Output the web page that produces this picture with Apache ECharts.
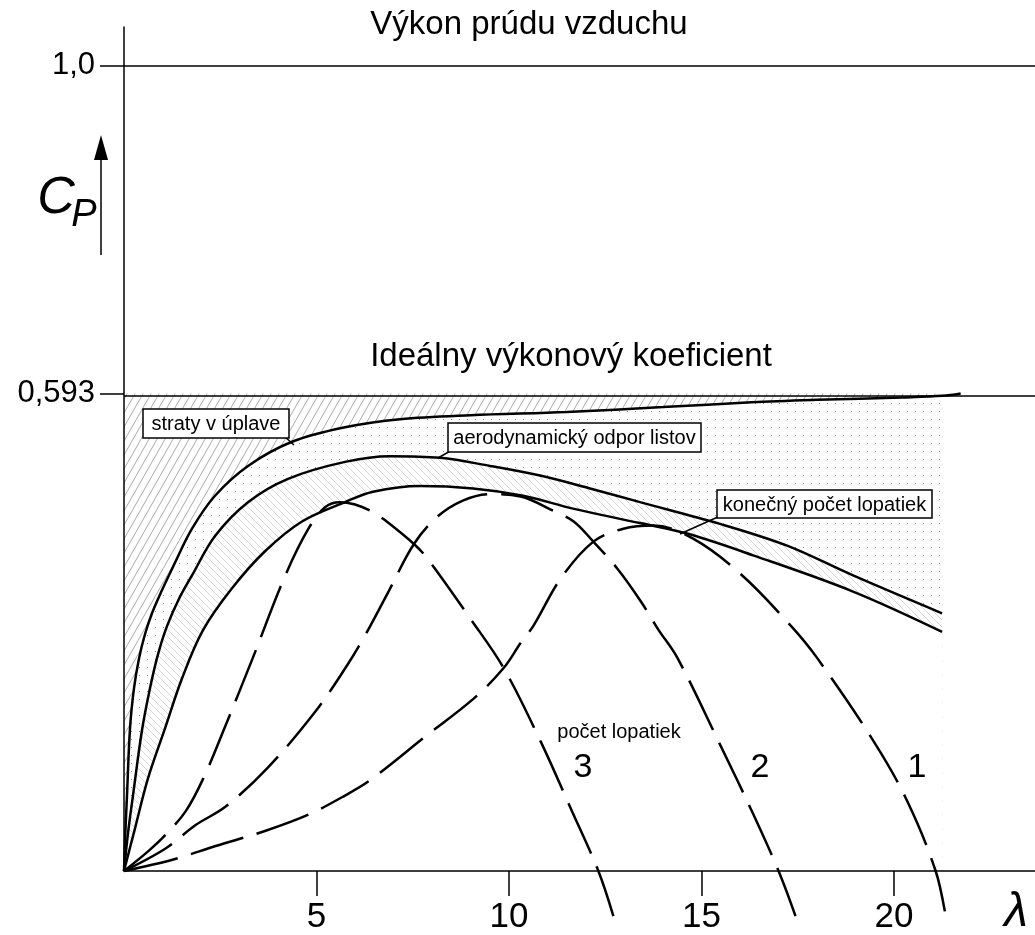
<!DOCTYPE html>
<html>
<head>
<meta charset="utf-8">
<title>Výkonový koeficient</title>
<script src="https://cdn.jsdelivr.net/npm/echarts@6/dist/echarts.min.js"></script>
<style>
  html, body { margin: 0; padding: 0; background: #fff; }
  #chart { width: 1035px; height: 935px; }
</style>
</head>
<body>
<div id="chart"></div>
<script>
// tip speed ratio (lambda) and power coefficient Cp
var CP_BETZ = 0.593;
var CP_AIR = 1.0;

// envelope without wake losses ("straty v úplave")
var lamA = [0, 0.034, 0.078, 0.156, 0.26, 0.39, 0.545, 0.727, 0.961, 1.247, 1.766, 2.364, 3.221, 4.364, 5.74, 7.17, 9.0, 11.5, 14.0, 16.3, 18.0, 20.2, 21.26, 21.73];
var cpA  = [0, 0.047, 0.094, 0.177, 0.227, 0.264, 0.294, 0.320, 0.346, 0.375, 0.425, 0.466, 0.503, 0.533, 0.551, 0.561, 0.566, 0.570, 0.576, 0.582, 0.585, 0.588, 0.590, 0.593];

// after profile drag ("aerodynamický odpor listov")
var lamB = [0, 0.104, 0.234, 0.468, 0.675, 0.883, 1.117, 1.429, 1.766, 2.364, 3.221, 4.26, 5.74, 6.909, 8.208, 9.506, 10.805, 12.104, 13.403, 15.481, 17.221, 18.935, 21.247];
var cpB  = [0, 0.047, 0.094, 0.175, 0.227, 0.269, 0.304, 0.338, 0.367, 0.416, 0.458, 0.487, 0.508, 0.515, 0.513, 0.503, 0.491, 0.475, 0.458, 0.431, 0.404, 0.367, 0.320];

// after finite blade number ("konečný počet lopatiek")
var lamC = [0, 0.286, 0.623, 1.065, 1.506, 2.052, 2.805, 3.662, 4.623, 5.74, 6.468, 7.688, 9.065, 10.364, 11.662, 13.403, 14.623, 16.338, 18.935, 21.247];
var cpC  = [0, 0.053, 0.115, 0.177, 0.239, 0.299, 0.351, 0.397, 0.434, 0.458, 0.471, 0.478, 0.475, 0.466, 0.450, 0.432, 0.419, 0.392, 0.347, 0.297];

// rotors with 3, 2 and 1 blades (dashed)
var lam3 = [0, 0.64, 1.08, 1.6, 2.06, 2.64, 3.34, 4.19, 4.79, 5.23, 5.6, 6.0, 6.45, 6.74, 7.53, 7.88, 9.0, 9.86, 10.82, 11.6, 12.32, 12.71];
var cp3  = [0, 0.025, 0.045, 0.074, 0.115, 0.181, 0.264, 0.367, 0.425, 0.452, 0.458, 0.455, 0.446, 0.437, 0.406, 0.388, 0.313, 0.252, 0.161, 0.078, 0, -0.056];

var lam2 = [0, 1.08, 1.86, 2.64, 3.73, 4.97, 5.75, 6.22, 6.87, 7.53, 8.14, 8.8, 9.5, 10.3, 11.16, 11.68, 12.19, 12.82, 13.42, 13.86, 14.38, 15.49, 16.27, 17.0, 17.44];
var cp2  = [0, 0.028, 0.057, 0.080, 0.128, 0.198, 0.252, 0.289, 0.347, 0.406, 0.440, 0.460, 0.468, 0.465, 0.447, 0.434, 0.409, 0.375, 0.335, 0.301, 0.264, 0.156, 0.078, 0, -0.056];

var lam1 = [0, 1.26, 2.38, 3.68, 4.79, 5.75, 6.40, 7.88, 9.08, 9.86, 10.30, 10.64, 11.34, 12.19, 12.97, 13.75, 14.77, 16.01, 17.31, 18.01, 19.47, 20.34, 21.08, 21.34];
var cp1  = [0, 0.014, 0.031, 0.050, 0.070, 0.094, 0.113, 0.169, 0.214, 0.252, 0.283, 0.305, 0.363, 0.409, 0.425, 0.429, 0.413, 0.369, 0.305, 0.264, 0.161, 0.087, 0, -0.056];

var xTicks = [5, 10, 15, 20];
var yTicks = [CP_BETZ, CP_AIR];
var yTickText = { '0.593': '0,593', '1': '1,0' };
var LAM_END = 21.26;   // where the shaded bands stop

function pairs(xs, ys, xmax) {
    var out = [];
    for (var i = 0; i < xs.length; i++) {
        if (xmax == null || xs[i] <= xmax + 1e-9) out.push([xs[i], ys[i]]);
    }
    return out;
}

// fill patterns (white background so the layers cover each other)
function hatch(w, h, color, dir, lw) {
    var c = document.createElement('canvas');
    c.width = w; c.height = h;
    var ctx = c.getContext('2d');
    ctx.fillStyle = '#fff';
    ctx.fillRect(0, 0, w, h);
    ctx.strokeStyle = color;
    ctx.lineWidth = lw;
    for (var k = -1; k <= 1; k++) {
        ctx.beginPath();
        if (dir == '/') {
            ctx.moveTo(k * w, h); ctx.lineTo(k * w + w, 0);
        } else {
            ctx.moveTo(k * w, 0); ctx.lineTo(k * w + w, h);
        }
        ctx.stroke();
    }
    return { image: c, repeat: 'repeat' };
}
function dots(w, h, color) {
    var c = document.createElement('canvas');
    c.width = w; c.height = h;
    var ctx = c.getContext('2d');
    ctx.fillStyle = '#fff';
    ctx.fillRect(0, 0, w, h);
    ctx.fillStyle = color;
    ctx.fillRect(3, 3, 1, 1);
    return { image: c, repeat: 'repeat' };
}

var FONT = 'Liberation Sans, Arial, sans-serif';
var SMOOTH = 0.35;

function areaSeries(name, data, fill) {
    return {
        name: name, type: 'line', data: data, smooth: SMOOTH,
        symbol: 'none', silent: true,
        lineStyle: { opacity: 0 },
        areaStyle: { color: fill, opacity: 1 }
    };
}
function curve(name, data, dashed) {
    return {
        name: name, type: 'line', data: data, smooth: SMOOTH,
        symbol: 'none', silent: true, clip: false, z: 5,
        lineStyle: { color: '#000', width: 2.5, type: dashed ? [55, 14] : 'solid' }
    };
}

function labelBox(x, y, w, h, text, leader) {
    return {
        type: 'group', z: 100,
        children: [
            { type: 'line', z: 100, shape: { x1: leader[0], y1: leader[1], x2: leader[2], y2: leader[3] },
              style: { stroke: '#000', lineWidth: 1.5 } },
            { type: 'rect', z: 100, shape: { x: x, y: y, width: w, height: h },
              style: { fill: '#fff', stroke: '#000', lineWidth: 1.5 } },
            { type: 'text', z: 101, x: x + w / 2, y: y + h / 2 + 1,
              style: { text: text, font: '20px ' + FONT, fill: '#000', align: 'center', verticalAlign: 'middle' } }
        ]
    };
}
function txt(x, y, text, size, italic) {
    return {
        type: 'text', x: x, y: y, z: 100,
        style: { text: text, font: (italic ? 'italic ' : '') + size + 'px ' + FONT,
                 fill: '#000', align: 'center', verticalAlign: 'middle' }
    };
}

var chart = echarts.init(document.getElementById('chart'));

var option = {
    backgroundColor: '#fff',
    animation: false,
    grid: { left: 124, right: 0, top: 27, bottom: 62 },
    xAxis: {
        type: 'value', min: 0, max: 23.66, z: 10,
        axisLine: { lineStyle: { color: '#000', width: 1.5 } },
        axisTick: { show: true, customValues: xTicks, length: 25, lineStyle: { color: '#000', width: 1.5 } },
        axisLabel: { customValues: xTicks, margin: 29, color: '#000', fontSize: 35, fontFamily: FONT },
        splitLine: { show: false }
    },
    yAxis: {
        type: 'value', min: 0, max: 1.048, z: 10,
        axisLine: { lineStyle: { color: '#000', width: 1.5 } },
        axisTick: { show: true, customValues: yTicks, length: 24, lineStyle: { color: '#000', width: 1.5 } },
        axisLabel: {
            customValues: yTicks, margin: 29, color: '#000', fontSize: 31, fontFamily: FONT,
            formatter: function (v) { return yTickText[String(v)] || String(v).replace('.', ','); }
        },
        splitLine: { show: false }
    },
    series: [
        {
            name: 'ideal', type: 'line', symbol: 'none', silent: true,
            data: [[0, CP_BETZ], [LAM_END, CP_BETZ]],
            lineStyle: { opacity: 0 },
            areaStyle: { color: hatch(8, 14, '#959595', '/', 0.8), opacity: 1 },
            markLine: {
                silent: true, symbol: ['none', 'none'], label: { show: false },
                lineStyle: { color: '#000', width: 1.5, type: 'solid' },
                data: [{ yAxis: CP_BETZ }, { yAxis: CP_AIR }]
            }
        },
        areaSeries('aArea', pairs(lamA, cpA, LAM_END), dots(8, 8, '#8f8f8f')),
        areaSeries('bArea', pairs(lamB, cpB), hatch(7, 7, '#cdcdcd', '\\', 0.8)),
        areaSeries('cArea', pairs(lamC, cpC), '#fff'),
        curve('A', pairs(lamA, cpA), false),
        curve('B', pairs(lamB, cpB), false),
        curve('C', pairs(lamC, cpC), false),
        curve('z3', pairs(lam3, cp3), true),
        curve('z2', pairs(lam2, cp2), true),
        curve('z1', pairs(lam1, cp1), true)
    ],
    graphic: [
        txt(529, 25, 'Výkon prúdu vzduchu', 33),
        txt(571, 357, 'Ideálny výkonový koeficient', 33),
        labelBox(143, 409, 146, 29, 'straty v úplave', [284, 436, 294, 445]),
        labelBox(448, 423, 253, 29, 'aerodynamický odpor listov', [452, 450, 438, 458]),
        labelBox(717, 490, 215, 28, 'konečný počet lopatiek', [720, 516, 680, 534]),
        txt(619, 732, 'počet lopatiek', 20),
        txt(583, 768, '3', 34),
        txt(760, 768, '2', 34),
        txt(917, 768, '1', 34),
        txt(56, 199, 'C', 52, true),
        txt(84, 215, 'P', 38, true),
        txt(1016, 913, 'λ', 48, true),
        { type: 'line', z: 100, shape: { x1: 101, y1: 255, x2: 101, y2: 155 }, style: { stroke: '#000', lineWidth: 1.5 } },
        { type: 'polygon', z: 100, shape: { points: [[94, 160], [108, 160], [101, 135]] }, style: { fill: '#000' } }
    ]
};

chart.setOption(option);
</script>
</body>
</html>
